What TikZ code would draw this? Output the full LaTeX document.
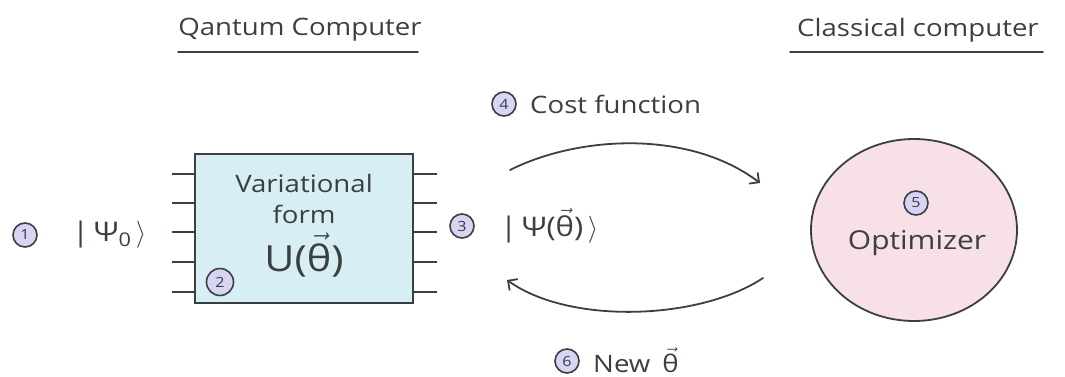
\RequirePackage{fix-cm}
\documentclass[tikz,border=0pt]{standalone}
\usepackage{fontspec}
\setmainfont{Open Sans}[FakeStretch=1.15]
\usetikzlibrary{arrows.meta,shapes.geometric}
\definecolor{ink}{HTML}{3A4040}
\definecolor{boxblue}{HTML}{D6EEF4}
\definecolor{lav}{HTML}{D8D4F4}
\definecolor{rose}{HTML}{F8E0E8}
% theta with a vector arrow, set in the text font
\newcommand\arrtheta{\ensuremath{\vec{\hbox{θ}}}}
\tikzset{
  pen/.style={draw=ink, line width=1.8pt, line cap=round},
  hand/.style={text=ink, inner sep=0pt, font=\fontsize{24}{28}\selectfont},
  statelbl/.style={text=ink, inner sep=0pt, font=\fontsize{27}{30}\selectfont},
  num/.style={circle, draw=ink, fill=lav, line width=1.6pt, minimum size=24pt,
    inner sep=0pt, text=ink, font=\fontsize{14}{14}\selectfont},
  wire/.style={draw=ink, line width=1.6pt},
  loop/.style={pen, -{Straight Barb[length=7pt,width=14pt,line width=1.8pt]}},
}
\begin{document}
\begin{tikzpicture}[x=1pt,y=-1pt]
\useasboundingbox (0,0) rectangle (1065,377);

% headings
\node[hand] (qc) at (300,30) {Qantum Computer};
\draw[pen] (178,52) -- (418,52);
\node[hand] (cc) at (918,30) {Classical computer};
\draw[pen] (790,52) -- (1043,52);

% input state
\node[num] (n1) at (25,235) {1};
\node[statelbl, anchor=west] (psi0) at (72,235) {|\,Ψ\textsubscript{0}\,$\rangle$};

% variational form block
\node[draw=ink, fill=boxblue, line width=1.6pt, minimum width=218, minimum height=149,
  inner sep=0pt] (vf) at (304,228.5) {};
\foreach \y in {174,203,232,262,292} {
  \draw[wire] (vf.west |- 0,\y) -- (172,\y);
  \draw[wire] (vf.east |- 0,\y) -- (437,\y);
}
\node[hand] (var) at (304,183) {Variational};
\node[hand] (form) at (304,214) {form};
\node[text=ink, inner sep=0pt, font=\fontsize{36}{40}\selectfont] (uth) at (304,255) {U(\arrtheta)};
\node[num, minimum size=27pt] (n2) at (220,282) {2};

% output state
\node[num] (n3) at (462,226) {3};
\node[statelbl, anchor=west] (psith) at (500,226) {|\,Ψ(\arrtheta)\,$\rangle$};

% cost function
\node[num] (n4) at (504,104) {4};
\node[hand, anchor=west] (cost) at (530,104) {Cost function};

% loop arrows
\coordinate (a1s) at (510,170);
\coordinate (a1e) at (760,183);
\coordinate (a2s) at (763,278);
\coordinate (a2e) at (507,280);
\draw[loop] (a1s) .. controls (580,135) and (690,130) .. (a1e);
\draw[loop] (a2s) .. controls (700,320) and (570,325) .. (a2e);

% optimizer
\node[ellipse, draw=ink, fill=rose, line width=1.8pt, minimum width=206,
  minimum height=182, inner sep=0pt] (opt) at (914,230) {};
\node[num] (n5) at (916,203) {5};
\node[hand, font=\fontsize{26}{30}\selectfont] (optl) at (917,243) {Optimizer};

% new parameters
\node[num] (n6) at (567,361) {6};
\node[hand, anchor=west] (newth) at (593,360) {New\enspace\arrtheta};
\end{tikzpicture}
\end{document}
